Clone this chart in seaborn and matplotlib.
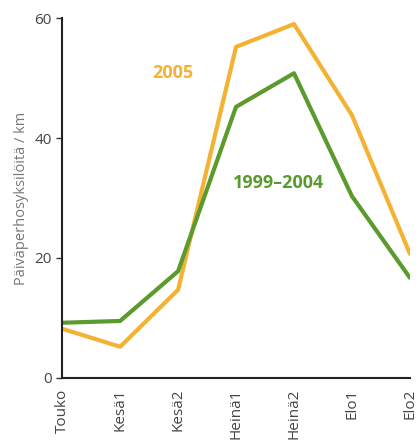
import matplotlib
matplotlib.use("Agg")
import matplotlib.pyplot as plt
import seaborn as sns
import pandas as pd

periods = ["Touko", "Kesä1", "Kesä2", "Heinä1", "Heinä2", "Elo1", "Elo2"]
vals_2005 = [8.2, 5.2, 14.7, 55.2, 59.0, 43.8, 20.7]
vals_avg = [9.2, 9.5, 17.8, 45.2, 50.8, 30.3, 16.7]

sns.set_style("white")
plt.rcParams['font.family'] = ['Open Sans', 'DejaVu Sans']

orange = "#f4b233"
green = "#5b9a2c"

df = pd.DataFrame({
    "x": list(range(len(periods))) * 2,
    "y": vals_2005 + vals_avg,
    "s": ["2005"] * 7 + ["1999–2004"] * 7,
})

fig = plt.figure(figsize=(4.2, 4.41), dpi=100)
ax = fig.add_axes([0.148, 0.143, 0.828, 0.816])
sns.lineplot(data=df, x="x", y="y", hue="s", palette={"2005": orange, "1999–2004": green},
             linewidth=3.0, ax=ax, legend=False)

ax.set_xlim(0, 6)
ax.set_ylim(0, 60)
ax.set_xticks(range(len(periods)))
ax.set_xticklabels(periods, rotation=90, color="#444444", fontsize=11)
ax.set_yticks([0, 20, 40, 60])
ax.tick_params(axis="y", left=True, length=4, width=1, colors="#333333", labelsize=11, labelcolor="#444444")
ax.tick_params(axis="x", bottom=False, pad=4)
ax.set_xlabel("")
ax.set_ylabel("Päiväperhosyksilöitä / km", color="#777777", fontsize=10.5)
for sp in ["top", "right"]:
    ax.spines[sp].set_visible(False)
for sp in ["left", "bottom"]:
    ax.spines[sp].set_color("#222222")
    ax.spines[sp].set_linewidth(1.5)

ax.text(1.56, 50.8, "2005", color=orange, fontsize=13, fontweight="bold", ha="left", va="center")
ax.text(2.95, 32.5, "1999–2004", color=green, fontsize=13, fontweight="bold", ha="left", va="center")

fig.savefig("out.png", dpi=100)
